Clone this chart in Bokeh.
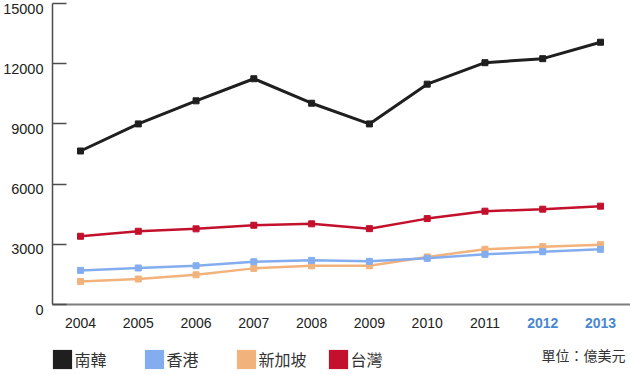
from bokeh.plotting import figure
from bokeh.models import (ColumnDataSource, FixedTicker, LabelSet, Label, Legend,
                          LegendItem, Range1d)
from bokeh.core.properties import value
from bokeh.embed import file_html
from bokeh.resources import INLINE

# ---- data ----
years = [2004, 2005, 2006, 2007, 2008, 2009, 2010, 2011, 2012, 2013]
year_labels = ["2004", "2005", "2006", "2007", "2008", "2009", "2010", "2011", "2012", "2013"]
korea = [7650, 9000, 10150, 11250, 10030, 9000, 10980, 12050, 12250, 13070]
hongkong = [1700, 1820, 1930, 2130, 2200, 2150, 2300, 2500, 2630, 2750]
singapore = [1150, 1270, 1480, 1800, 1930, 1930, 2370, 2750, 2880, 2980]
taiwan = [3400, 3650, 3770, 3950, 4020, 3780, 4280, 4650, 4750, 4900]
y_ticks = [0, 3000, 6000, 9000, 12000, 15000]
y_tick_labels = ["0", "3000", "6000", "9000", "12000", "15000"]
series_names = ["南韓", "香港", "新加坡", "台灣"]
unit_label = "單位：億美元"

# ---- styles / layout ----
colors = {"南韓": "#1f1f1f", "香港": "#84adef", "新加坡": "#f2b27c", "台灣": "#c3102c"}
highlight_years = ["2012", "2013"]
x_lo, x_hi = 2002.6155, 2013.519     # frame spans the whole canvas
y_lo, y_hi = -3538, 15149
y_axis_at = 2003.515

p = figure(width=630, height=375, x_range=Range1d(x_lo, x_hi), y_range=Range1d(y_lo, y_hi),
           output_backend="svg", toolbar_location=None,
           min_border_left=0, min_border_right=0, min_border_top=0, min_border_bottom=0)
p.outline_line_color = None
p.xgrid.visible = False
p.ygrid.visible = False
p.background_fill_color = "white"

# axes drawn at fixed data locations inside the frame
p.yaxis.fixed_location = y_axis_at
p.yaxis.bounds = (y_ticks[0], y_ticks[-1])
p.yaxis.ticker = FixedTicker(ticks=y_ticks)
p.yaxis.major_tick_in = 14
p.yaxis.major_tick_out = 0
p.yaxis.minor_tick_line_color = None
p.yaxis.major_tick_line_color = "#4d4d4d"
p.yaxis.major_tick_line_width = 1.5
p.yaxis.axis_line_color = "#4d4d4d"
p.yaxis.axis_line_width = 1.5
p.yaxis.major_label_text_color = None

p.xaxis.fixed_location = 0
p.xaxis.bounds = (y_axis_at, x_hi)
p.xaxis.ticker = FixedTicker(ticks=years)
p.xaxis.major_tick_in = 0
p.xaxis.major_tick_out = 0
p.xaxis.minor_tick_line_color = None
p.xaxis.axis_line_color = "#7d7d7d"
p.xaxis.axis_line_width = 2
p.xaxis.major_label_text_color = None

# series (drawing order: orange, blue, red, black)
data = {"南韓": korea, "香港": hongkong, "新加坡": singapore, "台灣": taiwan}
for name in ["新加坡", "香港", "台灣", "南韓"]:
    lw = 3 if name == "南韓" else 2.5
    p.line(years, data[name], line_color=colors[name], line_width=lw)
    p.scatter(years, data[name], marker="square", size=6, fill_color=colors[name],
              line_color=colors[name])

# y tick labels
ysrc = ColumnDataSource(dict(x=[y_axis_at] * len(y_ticks), y=y_ticks, text=y_tick_labels))
p.add_layout(LabelSet(x="x", y="y", text="text", source=ysrc, x_offset=-9, y_offset=-5,
                      text_align="right", text_baseline="middle",
                      text_font=value("Liberation Sans"), text_font_size="14.5px",
                      text_color="#222222"))

# x tick labels
lab_color = ["#4a87cf" if t in highlight_years else "#222222" for t in year_labels]
fstyle = ["bold" if t in highlight_years else "normal" for t in year_labels]
xsrc = ColumnDataSource(dict(x=years, y=[0] * len(years), text=year_labels,
                             lab_color=lab_color, fstyle=fstyle))
p.add_layout(LabelSet(x="x", y="y", text="text", source=xsrc, y_offset=-18,
                      text_align="center", text_baseline="middle",
                      text_font=value("Liberation Sans"), text_font_size="14px",
                      text_color="lab_color", text_font_style="fstyle"))

# legend with square swatches (zero-area proxy quads at each series' first point)
items = []
for name in series_names:
    s = data[name]
    r = p.quad(left=[years[0]], right=[years[0]], top=[s[0]], bottom=[s[0]],
               fill_color=colors[name], line_color=None)
    items.append(LegendItem(label=name, renderers=[r]))
legend = Legend(items=items, location=(49.6, 4.4), orientation="horizontal",
                glyph_width=24, glyph_height=24, label_standoff=1, label_width=60,
                spacing=7, padding=0, margin=0, border_line_color=None,
                background_fill_alpha=0, label_text_font="Noto Sans CJK TC",
                label_text_font_size="16px", label_text_color="#333333",
                label_text_baseline="middle")
p.add_layout(legend)

p.add_layout(Label(x=x_hi, y=0, x_offset=-5, y_offset=-50, text=unit_label,
                   text_align="right", text_baseline="middle",
                   text_font="Noto Sans CJK TC", text_font_size="14px",
                   text_color="#333333"))

open("out.html", "w").write(file_html(p, INLINE))
